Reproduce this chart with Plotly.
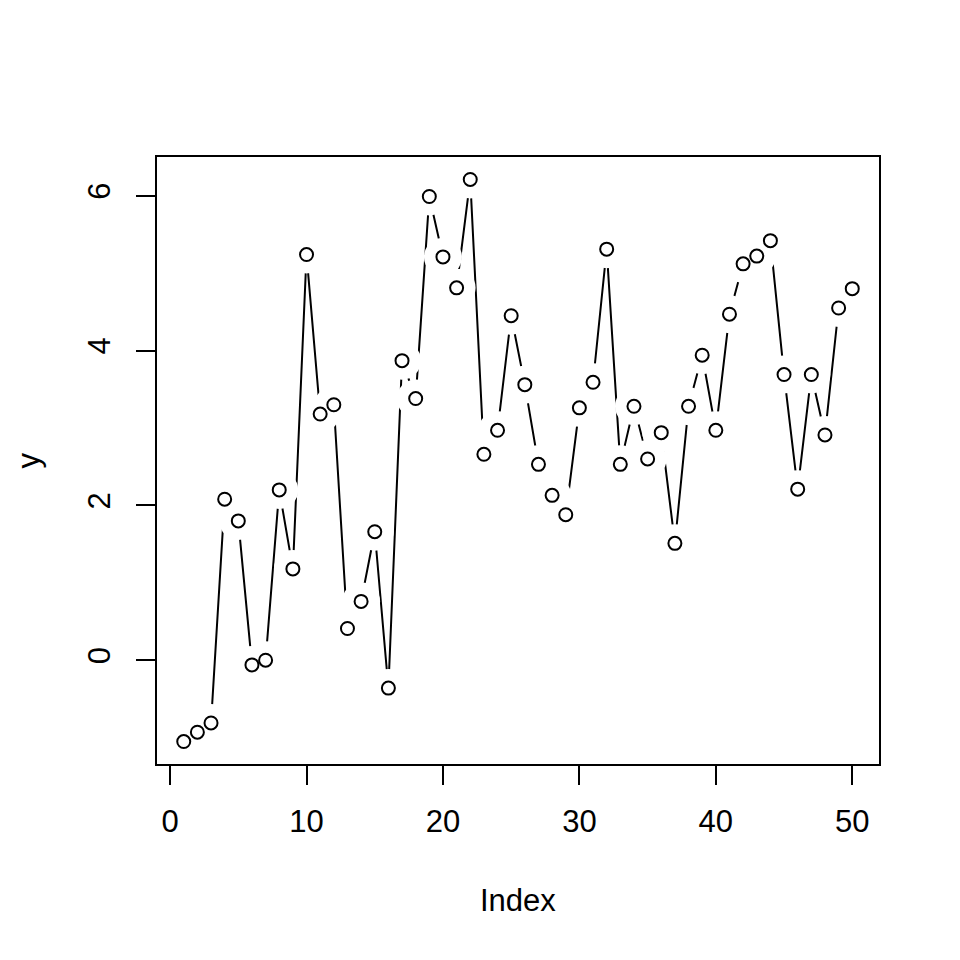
import plotly.graph_objects as go

index = list(range(1, 51))
y = [-1.05, -0.93, -0.81, 2.08, 1.80, -0.06, 0.00, 2.20, 1.18, 5.24,
     3.18, 3.30, 0.41, 0.76, 1.66, -0.36, 3.87, 3.38, 5.99, 5.21,
     4.81, 6.21, 2.66, 2.97, 4.45, 3.56, 2.53, 2.13, 1.88, 3.26,
     3.59, 5.31, 2.53, 3.28, 2.60, 2.94, 1.51, 3.28, 3.94, 2.97,
     4.47, 5.12, 5.22, 5.42, 3.69, 2.21, 3.69, 2.91, 4.55, 4.80]
x_ticks = [0, 10, 20, 30, 40, 50]
y_ticks = [0, 2, 4, 6]

FONT = "Liberation Sans, Arial, sans-serif"

fig = go.Figure()
# connecting line
fig.add_trace(go.Scatter(x=index, y=y, mode="lines",
                         line=dict(color="black", width=2), hoverinfo="skip"))
# white masks to create type="b" gaps
fig.add_trace(go.Scatter(x=index, y=y, mode="markers",
                         marker=dict(size=38, color="white", line=dict(width=0)),
                         hoverinfo="skip"))
# open circles
fig.add_trace(go.Scatter(x=index, y=y, mode="markers",
                         marker=dict(size=13, color="white", symbol="circle",
                                     line=dict(color="black", width=2))))

xmin, xmax = 1, 50
ymin, ymax = min(y), max(y)
xpad = (xmax - xmin) * 0.04
ypad = (ymax - ymin) * 0.04

fig.update_layout(
    width=960, height=960,
    paper_bgcolor="white", plot_bgcolor="white",
    showlegend=False,
    margin=dict(l=157, r=81, t=157, b=196),
    font=dict(family=FONT, size=31, color="black"),
    xaxis=dict(range=[xmin - xpad, xmax + xpad], tickvals=x_ticks,
               ticks="outside", ticklen=19, tickwidth=2, tickcolor="black",
               showline=True, linewidth=2, linecolor="black", mirror=True,
               showgrid=False, zeroline=False, ticklabelstandoff=10,
               tickfont=dict(size=31)),
    yaxis=dict(range=[ymin - ypad, ymax + ypad], tickvals=y_ticks,
               ticks="outside", ticklen=19, tickwidth=2, tickcolor="black",
               showline=True, linewidth=2, linecolor="black", mirror=True,
               showgrid=False, zeroline=False, tickangle=-90,
               ticklabelstandoff=14, tickfont=dict(size=31)),
    annotations=[
        dict(text="Index", x=0.5, xref="paper", y=0, yref="paper",
             yshift=-(900 - 764), yanchor="middle",
             showarrow=False, font=dict(size=31)),
        dict(text="y", x=0, y=0.5, xref="paper", yref="paper",
             xshift=-(157 - 28), xanchor="center",
             showarrow=False, textangle=-90, font=dict(size=31)),
    ],
)

fig.write_html("out.html",
               config={"displayModeBar": False, "staticPlot": True},
               post_script="document.body.style.margin='0';")
